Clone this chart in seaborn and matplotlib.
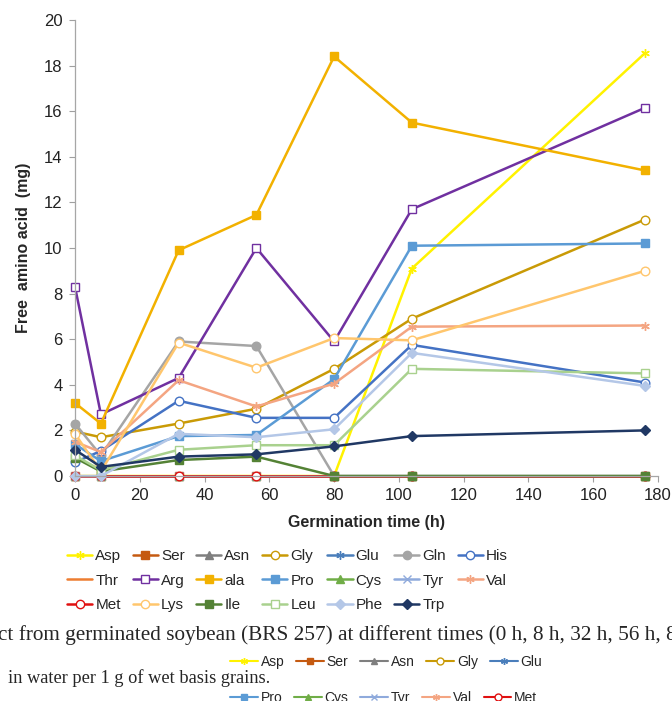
import matplotlib
matplotlib.use("Agg")
import matplotlib.pyplot as plt
import seaborn as sns
import numpy as np
import pandas as pd
from matplotlib.lines import Line2D

# ---------------- data ----------------
hours = [0, 8, 32, 56, 80, 104, 176]

Asp = [0, 0, 0, 0, 0, 9.1, 18.55]
Ser = [0, 0, 0, 0, 0, 0, 0]
Asn = [0, 0, 0, 0, 0, 0, 0]
Gly = [1.95, 1.7, 2.3, 2.95, 4.7, 6.9, 11.25]
Glu = [0, 0, 0, 0, 0, 0, 0]
Gln = [2.3, 0.9, 5.9, 5.7, 0, 0, 0]
His = [0.6, 1.1, 3.3, 2.55, 2.55, 5.75, 4.1]
Thr = [0, 0, 0, 0, 0, 0, 0]
Arg = [8.3, 2.7, 4.3, 10.0, 5.9, 11.7, 16.15]
ala = [3.2, 2.3, 9.9, 11.45, 18.4, 15.5, 13.4]
Pro = [1.4, 0.65, 1.75, 1.8, 4.25, 10.1, 10.2]
Cys = [0, 0, 0, 0, 0, 0, 0]
Tyr = [0, 0, 0, 0, 0, 0, 0]
Val = [1.5, 1.05, 4.2, 3.05, 4.05, 6.55, 6.6]
Met = [0, 0, 0, 0, 0, 0, 0]
Lys = [1.85, 0.2, 5.85, 4.75, 6.05, 5.95, 9.0]
Ile = [0.8, 0.2, 0.7, 0.85, 0, 0, 0]
Leu = [0.9, 0.25, 1.15, 1.35, 1.35, 4.7, 4.5]
Phe = [0, 0, 1.85, 1.7, 2.05, 5.4, 3.95]
Trp = [1.15, 0.4, 0.85, 0.95, 1.3, 1.75, 2.0]

names = ["Asp", "Ser", "Asn", "Gly", "Glu", "Gln", "His",
         "Thr", "Arg", "ala", "Pro", "Cys", "Tyr", "Val",
         "Met", "Lys", "Ile", "Leu", "Phe", "Trp"]
values = [Asp, Ser, Asn, Gly, Glu, Gln, His, Thr, Arg, ala, Pro, Cys, Tyr,
          Val, Met, Lys, Ile, Leu, Phe, Trp]

x_ticks = [0, 20, 40, 60, 80, 100, 120, 140, 160, 180]
y_ticks = [0, 2, 4, 6, 8, 10, 12, 14, 16, 18, 20]

caption1 = "ct from germinated soybean (BRS 257) at different times (0 h, 8 h, 32 h, 56 h, 80"
caption2 = "in water per 1 g of wet basis grains."
second_row1 = ["Asp", "Ser", "Asn", "Gly", "Glu"]
second_row2 = ["Pro", "Cys", "Tyr", "Val", "Met"]

# ---------------- styles ----------------
AST = (6, 2, 0)
styles = {
    "Asp": dict(color="#FFF200", marker=AST, fill=True),
    "Ser": dict(color="#C55A11", marker="s", fill=True),
    "Asn": dict(color="#7F7F7F", marker="^", fill=True),
    "Gly": dict(color="#C99A06", marker="o", fill=False),
    "Glu": dict(color="#4A7EBB", marker=AST, fill=True),
    "Gln": dict(color="#A5A5A5", marker="o", fill=True),
    "His": dict(color="#4472C4", marker="o", fill=False),
    "Thr": dict(color="#ED7D31", marker=None, fill=True),
    "Arg": dict(color="#7030A0", marker="s", fill=False),
    "ala": dict(color="#F2B100", marker="s", fill=True),
    "Pro": dict(color="#5B9BD5", marker="s", fill=True),
    "Cys": dict(color="#70AD47", marker="^", fill=True),
    "Tyr": dict(color="#8FAADC", marker="x", fill=True),
    "Val": dict(color="#F4A582", marker=AST, fill=True),
    "Met": dict(color="#E01010", marker="o", fill=False),
    "Lys": dict(color="#FFC66D", marker="o", fill=False),
    "Ile": dict(color="#548235", marker="s", fill=True),
    "Leu": dict(color="#A9D18E", marker="s", fill=False),
    "Phe": dict(color="#B4C7E7", marker="D", fill=True),
    "Trp": dict(color="#203864", marker="D", fill=True),
}

sns.set_theme(style="white")
plt.rcParams["font.family"] = ["Liberation Sans", "DejaVu Sans"]

fig = plt.figure(figsize=(6.72, 7.01), dpi=100)
ax = fig.add_axes([75 / 672, 1 - 476 / 701, (658 - 75) / 672, (476 - 20) / 701])

def handle_for(name, lw=1.8, ms=6):
    st = styles[name]
    mk = st["marker"] if st["marker"] is not None else "None"
    msz = ms * (0.8 if mk == "D" else 1.0)
    return Line2D([], [], color=st["color"], lw=lw, marker=mk, markersize=msz,
                  markerfacecolor=st["color"] if st["fill"] else "white",
                  markeredgecolor=st["color"], markeredgewidth=1.0)

for name, vals in zip(names, values):
    st = styles[name]
    df = pd.DataFrame({"h": hours, "v": vals})
    mk = st["marker"] if st["marker"] is not None else None
    ms = 5 if st["marker"] == "D" else 6.2
    kw = dict(marker=mk, markersize=ms,
              markerfacecolor=st["color"] if st["fill"] else "white",
              markeredgecolor=st["color"], markeredgewidth=1.0) if mk else {}
    sns.lineplot(data=df, x="h", y="v", ax=ax, color=st["color"], linewidth=1.8,
                 clip_on=False, legend=False, **kw)

ax.set_xlim(0, 180)
ax.set_ylim(0, 20)
ax.set_xticks(x_ticks)
ax.set_yticks(y_ticks)
ax.tick_params(axis="both", labelsize=12, colors="#222222", length=4,
               width=0.8, direction="out", pad=5)
ax.tick_params(axis="both", color="#A0A0A0")
ax.xaxis.set_ticks_position("bottom")
ax.yaxis.set_ticks_position("left")
for s in ["top", "right"]:
    ax.spines[s].set_visible(False)
for s in ["left", "bottom"]:
    ax.spines[s].set_color("#A6A6A6")
    ax.spines[s].set_linewidth(0.9)
ax.set_xlabel("Germination time (h)", fontsize=11.5, fontweight="bold", labelpad=8)
ax.set_ylabel("Free  amino acid  (mg)", fontsize=11.5, fontweight="bold", labelpad=9)

# main legend (row-major order with 7 columns)
ncol = 7
nrow = int(np.ceil(len(names) / ncol))
order = []
for c in range(ncol):
    for r in range(nrow):
        i = r * ncol + c
        if i < len(names):
            order.append(i)
handles = [handle_for(names[i]) for i in order]
labels = [names[i] for i in order]
fig.legend(handles, labels, ncol=ncol, loc="upper left",
           bbox_to_anchor=(67 / 672, 1 - 549 / 701), frameon=False,
           fontsize=11, handlelength=1.65, handletextpad=0.2,
           columnspacing=0.75, labelspacing=0.7, borderaxespad=0, borderpad=0)

# caption text
fig.text(-2 / 672, 1 - 635 / 701, caption1, fontsize=15.3,
         family=["Liberation Serif", "DejaVu Serif"], va="center", ha="left")
fig.text(8 / 672, 1 - 678 / 701, caption2, fontsize=13.2,
         family=["Liberation Serif", "DejaVu Serif"], va="center", ha="left")

# second (partial) legend
for row, yy in [(second_row1, 662), (second_row2, 698)]:
    hs = [handle_for(n, lw=1.5, ms=5) for n in row]
    fig.legend(hs, row, ncol=5, loc="center left",
               bbox_to_anchor=(230 / 672, 1 - yy / 701), frameon=False,
               prop={"family": ["Liberation Sans Narrow", "Liberation Sans"], "size": 10},
               handlelength=2.0, handletextpad=0.2, columnspacing=0.85,
               borderaxespad=0, borderpad=0)

fig.savefig("out.png", dpi=100)
